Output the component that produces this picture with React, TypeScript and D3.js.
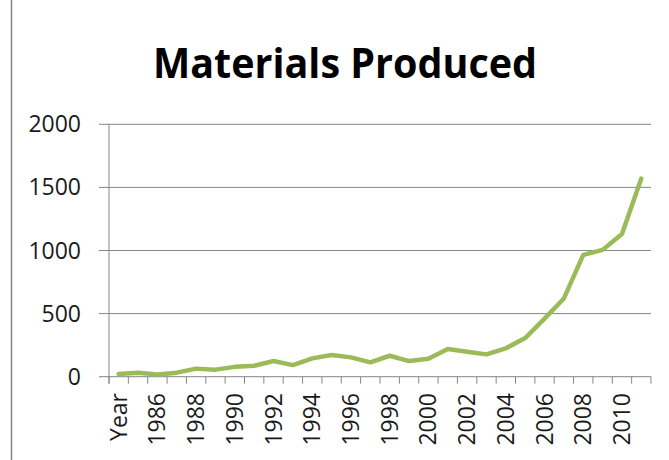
import * as d3 from 'd3';

// categories as they appear on the x axis (first one is the header cell "Year")
const categories = ['Year', '1985', '1986', '1987', '1988', '1989', '1990', '1991', '1992', '1993',
  '1994', '1995', '1996', '1997', '1998', '1999', '2000', '2001', '2002', '2003',
  '2004', '2005', '2006', '2007', '2008', '2009', '2010', '2011'];

const produced = [21, 32, 18, 32, 64, 56, 78, 87, 124, 92,
  145, 172, 153, 114, 166, 124, 143, 219, 198, 177,
  225, 306, 460, 620, 965, 1005, 1131, 1570];

const yTicks = [0, 500, 1000, 1500, 2000];

const W = 669;
const H = 460;
const plot = { left: 109, right: 651, top: 124.3, bottom: 376.7 };
const grid = '#868686';
const font = '"Open Sans", "Liberation Sans", sans-serif';

export default function App() {
  const x = d3.scaleBand<string>().domain(categories).range([plot.left, plot.right]).padding(0);
  const y = d3.scaleLinear().domain([0, 2000]).range([plot.bottom, plot.top]);

  const line = d3
    .line<number>()
    .x((_, i) => (x(categories[i]) as number) + x.bandwidth() / 2)
    .y((d) => y(d));

  // tick boundaries between categories
  const bounds = categories.map((c) => x(c) as number).concat(plot.right);

  return (
    <svg width={W} height={H} style={{ position: 'absolute', left: 0, top: 0, background: '#fff' }}>
      <rect x={0} y={0} width={W} height={H} fill="#fff" />
      <line x1={11.5} x2={11.5} y1={0} y2={H} stroke={grid} strokeWidth={1.5} />

      <text
        x={345}
        y={78}
        textAnchor="middle"
        fontFamily={font}
        fontWeight="bold"
        fontSize={42}
        textLength={384}
        lengthAdjust="spacingAndGlyphs"
        fill="#000"
      >
        Materials Produced
      </text>

      {/* gridlines + y labels */}
      {yTicks.map((t) => (
        <g key={t}>
          <line x1={99} x2={plot.right} y1={y(t)} y2={y(t)} stroke={grid} strokeWidth={1} />
          <text
            x={81}
            y={y(t)}
            dy="0.35em"
            textAnchor="end"
            fontFamily={font}
            fontSize={23}
            fill="#1a1a1a"
          >
            {t}
          </text>
        </g>
      ))}

      {/* y axis line */}
      <line x1={plot.left} x2={plot.left} y1={plot.top} y2={plot.bottom + 7} stroke={grid} strokeWidth={1} />

      {/* x ticks */}
      {bounds.map((b, i) => (
        <line key={i} x1={b} x2={b} y1={plot.bottom} y2={plot.bottom + 7} stroke={grid} strokeWidth={1} />
      ))}

      {/* x labels, every other category */}
      {categories.map((c, i) =>
        i % 2 === 0 ? (
          <text
            key={c}
            transform={`translate(${(x(c) as number) + x.bandwidth() / 2},393) rotate(-90)`}
            dy="0.35em"
            textAnchor="end"
            fontFamily={font}
            fontSize={23}
            fill="#1a1a1a"
          >
            {c}
          </text>
        ) : null
      )}

      <path
        d={line(produced) ?? ''}
        fill="none"
        stroke="#9BBB59"
        strokeWidth={4.5}
        strokeLinejoin="round"
        strokeLinecap="round"
      />
    </svg>
  );
}
